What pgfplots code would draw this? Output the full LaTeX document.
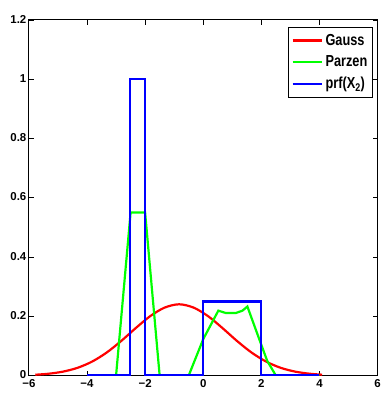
\documentclass[border=0pt]{standalone}
\usepackage{fontspec}
\setmainfont{Liberation Sans}
\newfontfamily\legfont{Liberation Sans}[FakeStretch=0.8]
\usepackage{pgfplots}
\pgfplotsset{compat=1.18}
\begin{document}
\begin{tikzpicture}
\useasboundingbox (-29pt,-18.5pt) rectangle (355pt,377pt);
\begin{axis}[
  scale only axis, width=350pt, height=357pt,
  xmin=-6, xmax=6, ymin=0, ymax=1.2,
  xtick={-6,-4,-2,0,2,4,6}, xticklabels={−6,−4,−2,0,2,4,6},
  ytick={0,0.2,0.4,0.6,0.8,1,1.2}, yticklabels={0,0.2,0.4,0.6,0.8,1,1.2},
  tick align=inside, major tick length=5pt,
  tick style={black, line width=0.8pt},
  axis line style={line width=1pt},
  ticklabel style={font=\fontsize{11.5}{12}\selectfont\bfseries},
  xticklabel style={yshift=-3pt, inner ysep=1pt},
  yticklabel style={xshift=1pt, yshift=0.8pt, inner ysep=1pt},
  legend cell align=left,
  legend style={at={(0.9866,0.981)}, anchor=north east, draw=black, line width=1.2pt,
    font=\legfont\fontsize{16}{18}\selectfont\bfseries, row sep=5pt, inner xsep=3pt, inner ysep=5pt},
  legend image code/.code={\draw[#1] (0pt,0pt) -- (30pt,0pt);},
]
\addplot[red, line width=2.2pt, smooth] coordinates {
(-5.78,0.0028) (-5.33,0.0061) (-4.83,0.0132) (-4.33,0.026) (-3.83,0.0469)
(-3.33,0.0772) (-2.83,0.1161) (-2.33,0.1596) (-1.83,0.2002) (-1.33,0.2293)
(-0.83,0.2405) (-0.33,0.2293) (0.17,0.2002) (0.67,0.1596) (1.17,0.1161)
(1.67,0.0772) (2.17,0.0469) (2.67,0.026) (3.17,0.0132) (3.67,0.0061) (4.09,0.003)};
\addlegendentry{Gauss}
\addplot[green, line width=2.2pt] coordinates {
(-4,0) (-3.0,0) (-2.5,0.55) (-2.0,0.55) (-1.5,0) (-0.5,0) (0,0.123)
(0.52,0.219) (0.78,0.211) (1.12,0.211) (1.35,0.219) (1.52,0.233)
(1.92,0.125) (2.2,0.05) (2.5,0) (4,0)};
\addlegendentry{Parzen}
\addplot[blue, line width=2.2pt] coordinates {
(-4,0) (-2.52,0) (-2.52,1) (-2.0,1) (-2.0,0) (0,0) (0,0.25) (2,0.25) (2,0) (4,0)};
\addlegendentry{prf(X\textsubscript{2})}
\end{axis}
\end{tikzpicture}
\end{document}
